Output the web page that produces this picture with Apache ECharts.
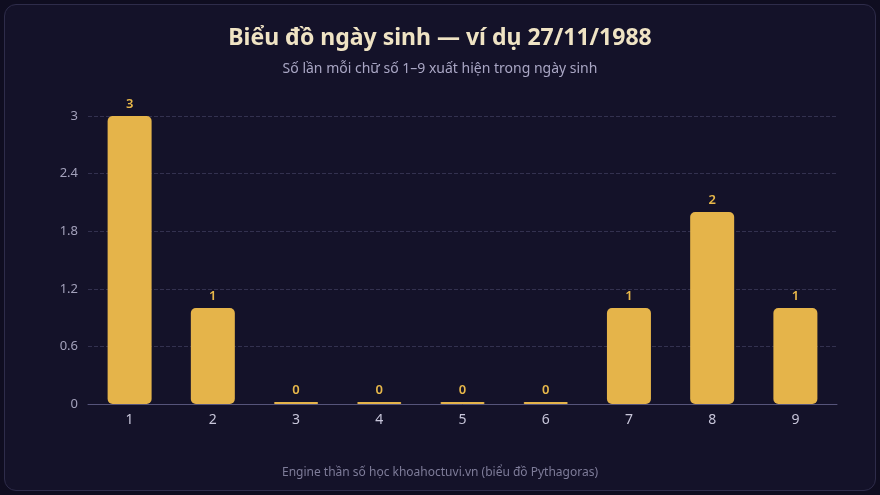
<!DOCTYPE html>
<html>
<head>
<meta charset="utf-8">
<script src="https://cdn.jsdelivr.net/npm/echarts@6/dist/echarts.min.js"></script>
<style>
  html, body { margin: 0; padding: 0; background: #0f0d20; }
  #panel {
    position: absolute; left: 4px; top: 4px; width: 870px; height: 485px;
    background: #141229; border: 1px solid #2e2c4a; border-radius: 12px;
  }
  #graph { position: absolute; left: 0; top: 0; width: 880px; height: 495px; }
</style>
</head>
<body>
<div id="panel"></div>
<div id="graph"></div>
<script>
var digits = ['1', '2', '3', '4', '5', '6', '7', '8', '9'];
var counts = [3, 1, 0, 0, 0, 0, 1, 2, 1];
var yTicks = [0, 0.6, 1.2, 1.8, 2.4, 3];

var chart = echarts.init(document.getElementById('graph'));
var font = '"Noto Sans", "Open Sans", sans-serif';

var option = {
  backgroundColor: 'transparent',
  textStyle: { fontFamily: font },
  title: [
    {
      text: 'Biểu đồ ngày sinh — ví dụ 27/11/1988',
      subtext: 'Số lần mỗi chữ số 1–9 xuất hiện trong ngày sinh',
      left: 'center',
      top: 22,
      itemGap: 12,
      textStyle: { color: '#efe3c4', fontSize: 23, fontWeight: 'bold', fontFamily: font },
      subtextStyle: { color: '#a9a6c4', fontSize: 14, fontFamily: font }
    },
    {
      text: 'Engine thần số học khoahoctuvi.vn (biểu đồ Pythagoras)',
      left: 'center',
      top: 462,
      textStyle: { color: '#7e7c99', fontSize: 12, fontWeight: 'normal', fontFamily: font }
    }
  ],
  grid: { left: 88, right: 43, top: 116, bottom: 91 },
  xAxis: {
    type: 'category',
    data: digits,
    axisLine: { lineStyle: { color: '#56547a' } },
    axisTick: { show: false },
    axisLabel: { color: '#c8c6da', fontSize: 14, margin: 9, fontFamily: font }
  },
  yAxis: {
    type: 'value',
    min: yTicks[0],
    max: yTicks[yTicks.length - 1],
    interval: yTicks[1] - yTicks[0],
    axisLine: { show: false },
    axisTick: { show: false },
    axisLabel: { color: '#a3a1bb', fontSize: 13, margin: 10, fontFamily: font },
    splitLine: { lineStyle: { color: '#33314f', type: 'dashed' } }
  },
  series: [
    {
      type: 'bar',
      data: counts,
      barWidth: 44,
      barMinHeight: 2,
      itemStyle: { color: '#e5b44a', borderRadius: 5 },
      label: {
        show: true,
        position: 'top',
        distance: 5,
        color: '#e8b84a',
        fontSize: 13,
        fontWeight: 600,
        fontFamily: font
      }
    }
  ]
};

chart.setOption(option);
</script>
</body>
</html>
